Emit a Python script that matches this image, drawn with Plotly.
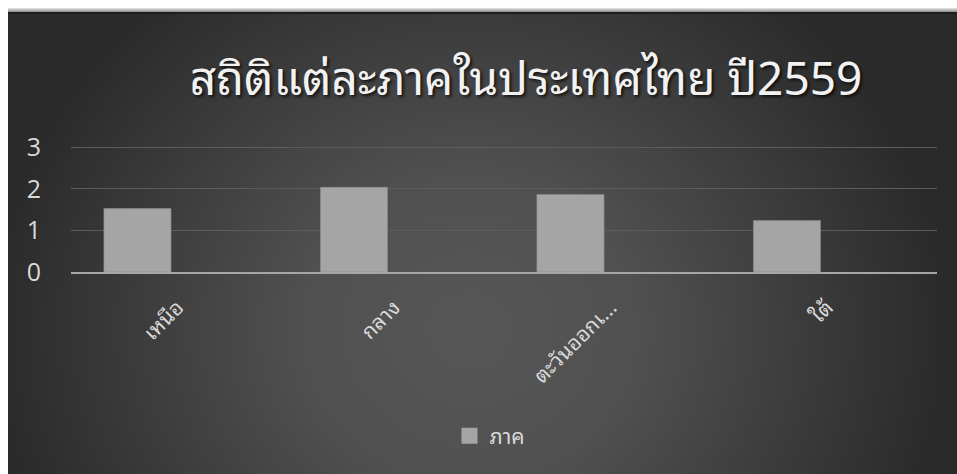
import base64
import plotly.graph_objects as go

categories = ["เหนือ", "กลาง", "ตะวันออกเฉียงเหนือ", "ใต้"]
tick_labels = ["เหนือ", "กลาง", "ตะวันออกเ...", "ใต้"]
values = [1.53, 2.04, 1.87, 1.24]
series_name = "ภาค"
title_text = "สถิติแต่ละภาคในประเทศไทย ปี2559"

W, H = 957, 474
L, R, T, B = 71, 20, 145, 202
pw, ph = W - L - R, H - T - B

svg = f'''<svg xmlns="http://www.w3.org/2000/svg" width="{W}" height="{H}" viewBox="0 0 {W} {H}">
<defs>
<linearGradient id="top" x1="0" y1="0" x2="0" y2="1">
<stop offset="0" stop-color="#e8e8e8"/><stop offset="1" stop-color="#8a8a8a"/>
</linearGradient>
<radialGradient id="g" gradientUnits="userSpaceOnUse" cx="0" cy="0" r="1" gradientTransform="translate(470,330) scale(480,440)">
<stop offset="0" stop-color="#575757"/><stop offset="0.35" stop-color="#505050"/><stop offset="1" stop-color="#2a2a2a"/>
</radialGradient>
</defs>
<rect x="0" y="0" width="{W}" height="{H}" fill="#ffffff"/>
<rect x="8" y="8" width="{W}" height="{H}" fill="url(#g)"/>
<rect x="8" y="8" width="{W}" height="4" fill="url(#top)"/>
<rect x="8" y="12" width="{W}" height="2" fill="#1e1e1e"/>
</svg>'''
src = "data:image/svg+xml;base64," + base64.b64encode(svg.encode()).decode()

thai_font = "Noto Sans Thai Looped, Noto Sans Thai, Noto Sans, sans-serif"

fig = go.Figure()
fig.add_trace(go.Bar(
    x=categories, y=values, name=series_name,
    marker=dict(color="#a5a5a5", line=dict(color="#8c8c8c", width=0.6)),
    width=0.31, showlegend=False,
))
fig.add_trace(go.Scatter(
    x=[None], y=[None], mode="markers", name=series_name,
    marker=dict(symbol="square", size=17, color="#a5a5a5"),
))

fig.update_layout(
    width=W, height=H,
    margin=dict(l=L, r=R, t=T, b=B, pad=0),
    paper_bgcolor="#2a2a2a",
    plot_bgcolor="rgba(0,0,0,0)",
    images=[dict(source=src, xref="paper", yref="paper",
                 x=-L / pw, y=(H - B) / ph, sizex=W / pw, sizey=H / ph,
                 xanchor="left", yanchor="top", sizing="stretch", layer="below")],
    title=dict(text=title_text, x=526 / W, xanchor="center", y=1 - 79 / H, yanchor="middle",
               xref="container", yref="container",
               font=dict(family=thai_font, size=46, color="#f2f2f2",
                         shadow="2px 2px 3px rgba(0,0,0,0.7)")),
    showlegend=True,
    legend=dict(orientation="h", x=(490 - L) / pw, xanchor="center",
                y=(H - B - 436) / ph, yanchor="middle",
                font=dict(family=thai_font, size=21, color="#d9d9d9"),
                bgcolor="rgba(0,0,0,0)", itemsizing="trace"),
)
fig.update_xaxes(
    range=[-0.307, 3.693],
    tickmode="array", tickvals=categories, ticktext=tick_labels,
    tickangle=-45, tickfont=dict(family=thai_font, size=21, color="#d9d9d9"),
    ticklabelshift=40, ticklabelstandoff=13,
    showgrid=False, showline=True, linecolor="#a6a6a6", linewidth=2,
    ticks="", zeroline=False,
)
fig.update_yaxes(
    range=[0, 3.06], tickvals=[0, 1, 2, 3],
    tickfont=dict(family="Open Sans, sans-serif", size=25, color="#d9d9d9"),
    ticklabelstandoff=29,
    showgrid=True, gridcolor="#5c5c5c", gridwidth=1,
    zeroline=False, showline=False, ticks="",
)

fig.write_html("out.html", config={"displayModeBar": False},
               post_script="document.body.style.margin='0';document.documentElement.style.overflow='hidden';")
